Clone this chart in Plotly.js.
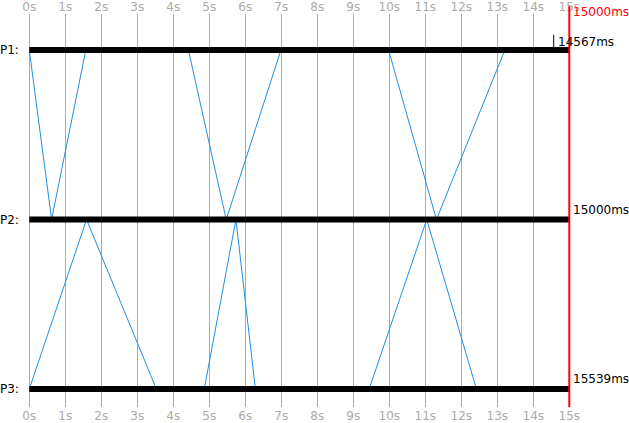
<!DOCTYPE html>
<html>
<head>
<meta charset="utf-8">
<script src="https://cdn.plot.ly/plotly-3.0.1.min.js"></script>
<style>html,body{margin:0;padding:0;background:#fff;}#chart{width:629px;height:423px;}</style>
</head>
<body>
<div id="chart"></div>
<script>
// Data
var processes = ["P1:", "P2:", "P3:"];
var processLevels = [0, 1, 2];
var timelineEnd = 15;                       // seconds
var tickValues = [0,1,2,3,4,5,6,7,8,9,10,11,12,13,14,15];
var tickLabels = ["0s","1s","2s","3s","4s","5s","6s","7s","8s","9s","10s","11s","12s","13s","14s","15s"];
var endLabels = ["14567ms", "15000ms", "15539ms"];
var endTimes = [14.567, 15.0, 15.539];
var limitLabel = "15000ms";
var limitTime = 15;

// Zig-zag message paths (time, process level)
var pathP1P2_t = [0, 0.62, 1.57, null, 4.42, 5.47, 6.99, null, 9.98, 11.31, 13.21];
var pathP1P2_y = [0, 1, 0, null, 0, 1, 0, null, 0, 1, 0];
var pathP2P3_t = [0, 1.59, 3.53, null, 4.86, 5.74, 6.28, null, 9.44, 11.04, 12.42];
var pathP2P3_y = [2, 1, 2, null, 2, 1, 2, null, 2, 1, 2];

var font = "DejaVu Sans, sans-serif";
var traces = [];

traces.push({x: pathP1P2_t, y: pathP1P2_y, mode: "lines", line: {color: "#1f8fe0", width: 1},
  hoverinfo: "skip", showlegend: false, connectgaps: false});
traces.push({x: pathP2P3_t, y: pathP2P3_y, mode: "lines", line: {color: "#1f8fe0", width: 1},
  hoverinfo: "skip", showlegend: false, connectgaps: false});

processLevels.forEach(function (lv) {
  traces.push({x: [0, timelineEnd], y: [lv, lv], mode: "lines", line: {color: "#000", width: 6},
    hoverinfo: "skip", showlegend: false});
});
// dummy trace for top axis
traces.push({x: [0, timelineEnd], y: [0, 0], xaxis: "x2", mode: "lines", line: {width: 0},
  hoverinfo: "skip", showlegend: false});

var annotations = [];
processes.forEach(function (p, i) {
  annotations.push({xref: "paper", x: 0, yref: "y", y: processLevels[i], text: p, showarrow: false,
    xanchor: "left", yanchor: "middle", xshift: -2, font: {family: font, size: 12, color: "#000"}});
});
// end labels
annotations.push({xref: "x", x: 14.62, yref: "y", y: -0.05, text: endLabels[0], showarrow: false,
  xanchor: "left", yanchor: "middle", xshift: 0, font: {family: font, size: 12, color: "#000"}});
annotations.push({xref: "x", x: limitTime, yref: "y", y: 1, yshift: 10, text: endLabels[1], showarrow: false,
  xanchor: "left", yanchor: "middle", xshift: 2, font: {family: font, size: 12, color: "#000"}});
annotations.push({xref: "x", x: limitTime, yref: "y", y: 2, yshift: 10, text: endLabels[2], showarrow: false,
  xanchor: "left", yanchor: "middle", xshift: 2, font: {family: font, size: 12, color: "#000"}});
annotations.push({xref: "x", x: limitTime, yref: "paper", y: 1, yshift: 2, text: limitLabel, showarrow: false,
  xanchor: "left", yanchor: "middle", xshift: 2, font: {family: font, size: 12, color: "#ff0000"}});

var shapes = [
  {type: "line", xref: "x", yref: "paper", x0: limitTime, x1: limitTime, y0: 0, y1: 1.02,
    line: {color: "#ff0000", width: 2}},
  {type: "line", xref: "x", yref: "y", x0: endTimes[0], x1: endTimes[0], y0: -0.09, y1: -0.015,
    line: {color: "#000", width: 1}}
];

var xr = [-29.3/36, (629-29.3)/36];
var axisCommon = {range: xr, tickmode: "array", tickvals: tickValues, ticktext: tickLabels,
  showgrid: true, gridcolor: "#ababab", gridwidth: 1, zeroline: false, showline: false, ticks: "",
  tickfont: {family: font, size: 12, color: "#aaaaaa"}, fixedrange: true};

var layout = {
  width: 629, height: 423,
  margin: {l: 0, r: 0, t: 14, b: 16, pad: 0},
  paper_bgcolor: "#fff", plot_bgcolor: "#fff",
  showlegend: false,
  xaxis: Object.assign({}, axisCommon, {side: "bottom"}),
  xaxis2: Object.assign({}, axisCommon, {side: "top", overlaying: "x", showgrid: false}),
  yaxis: {range: [(393-36)/169.5, -36/169.5], showgrid: false, zeroline: false, showticklabels: false,
    ticks: "", fixedrange: true},
  annotations: annotations,
  shapes: shapes
};

Plotly.newPlot("chart", traces, layout, {staticPlot: true, displayModeBar: false});
</script>
</body>
</html>
